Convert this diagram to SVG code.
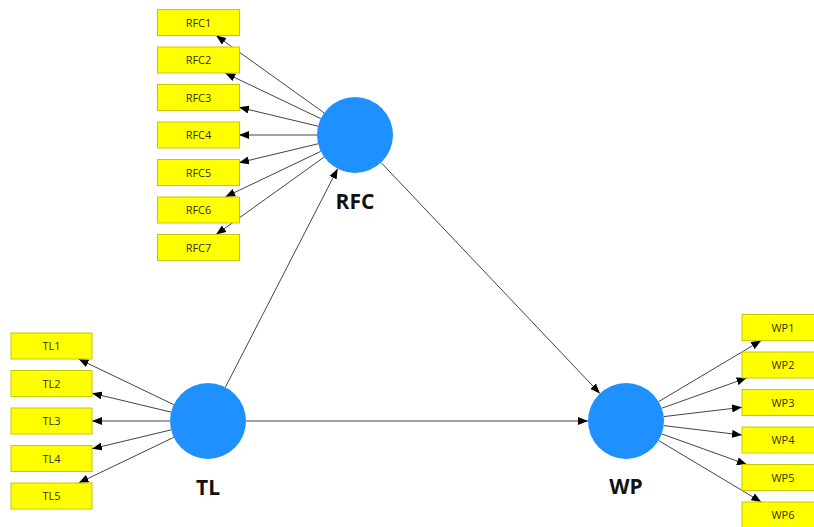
<svg xmlns="http://www.w3.org/2000/svg" width="814" height="527" viewBox="0 0 814 527">
<style>
.box{fill:#ffff00;stroke:#c8c800;stroke-width:1}
.bt{font-family:"Open Sans","Noto Sans",sans-serif;font-size:11px;fill:#333300;text-anchor:middle}
.lv{fill:#1e90ff}
.lt{font-family:"Open Sans","Noto Sans",sans-serif;font-size:21px;font-weight:bold;fill:#111;text-anchor:middle}
.c{stroke:#444;stroke-width:1;fill:none;marker-end:url(#ah)}
</style>
<defs>
<marker id="ah" markerUnits="userSpaceOnUse" markerWidth="10" markerHeight="8" refX="10" refY="4" orient="auto">
<path d="M0,0 L10,4 L0,8 z" fill="#000"/>
</marker>
</defs>
<rect width="814" height="527" fill="#fff"/>
<g id="connectors">
<line class="c" x1="324.1" y1="112.9" x2="216.1" y2="35.5"/>
<line class="c" x1="320.7" y1="118.6" x2="225.2" y2="73"/>
<line class="c" x1="318.0" y1="126.2" x2="239" y2="107.3"/>
<line class="c" x1="317" y1="135" x2="239" y2="135"/>
<line class="c" x1="318.0" y1="143.8" x2="239" y2="162.7"/>
<line class="c" x1="320.7" y1="151.4" x2="225.2" y2="197"/>
<line class="c" x1="324.1" y1="157.1" x2="216.1" y2="234.5"/>
<line class="c" x1="173.7" y1="404.6" x2="78.6" y2="359"/>
<line class="c" x1="171.0" y1="412.1" x2="92" y2="393.2"/>
<line class="c" x1="170" y1="421" x2="92" y2="421"/>
<line class="c" x1="171.0" y1="429.9" x2="92" y2="448.8"/>
<line class="c" x1="173.7" y1="437.4" x2="78.6" y2="483"/>
<line class="c" x1="658.7" y1="401.6" x2="761.2" y2="340.5"/>
<line class="c" x1="661.8" y1="408.2" x2="746.6" y2="378"/>
<line class="c" x1="663.7" y1="416.6" x2="742" y2="407.3"/>
<line class="c" x1="663.7" y1="425.6" x2="742" y2="435"/>
<line class="c" x1="661.7" y1="433.9" x2="746.9" y2="464.5"/>
<line class="c" x1="658.6" y1="440.5" x2="761.3" y2="502"/>
<line class="c" x1="381.1" y1="162.6" x2="599.9" y2="393.4"/>
<line class="c" x1="225.4" y1="387.2" x2="337.6" y2="168.8"/>
<line class="c" x1="246" y1="421" x2="588" y2="421"/>
</g>
<g id="RFC"><circle class="lv" cx="355" cy="135" r="38"/><text class="lt" x="355" y="209">RFC</text></g>
<g id="TL"><circle class="lv" cx="208" cy="421" r="38"/><text class="lt" x="208" y="495">TL</text></g>
<g id="WP"><circle class="lv" cx="626" cy="421" r="38"/><text class="lt" x="626" y="494">WP</text></g>
<g id="RFC1"><rect class="box" x="157.5" y="9.5" width="82" height="26"/><text class="bt" x="198.5" y="26.5">RFC1</text></g>
<g id="RFC2"><rect class="box" x="157.5" y="47" width="82" height="26"/><text class="bt" x="198.5" y="64">RFC2</text></g>
<g id="RFC3"><rect class="box" x="157.5" y="84.5" width="82" height="26"/><text class="bt" x="198.5" y="101.5">RFC3</text></g>
<g id="RFC4"><rect class="box" x="157.5" y="122" width="82" height="26"/><text class="bt" x="198.5" y="139">RFC4</text></g>
<g id="RFC5"><rect class="box" x="157.5" y="159.5" width="82" height="26"/><text class="bt" x="198.5" y="176.5">RFC5</text></g>
<g id="RFC6"><rect class="box" x="157.5" y="197" width="82" height="26"/><text class="bt" x="198.5" y="214">RFC6</text></g>
<g id="RFC7"><rect class="box" x="157.5" y="234.5" width="82" height="26"/><text class="bt" x="198.5" y="251.5">RFC7</text></g>
<g id="TL1"><rect class="box" x="11" y="333" width="81" height="26"/><text class="bt" x="51.5" y="350">TL1</text></g>
<g id="TL2"><rect class="box" x="11" y="370.5" width="81" height="26"/><text class="bt" x="51.5" y="387.5">TL2</text></g>
<g id="TL3"><rect class="box" x="11" y="408" width="81" height="26"/><text class="bt" x="51.5" y="425">TL3</text></g>
<g id="TL4"><rect class="box" x="11" y="445.5" width="81" height="26"/><text class="bt" x="51.5" y="462.5">TL4</text></g>
<g id="TL5"><rect class="box" x="11" y="483" width="81" height="26"/><text class="bt" x="51.5" y="500">TL5</text></g>
<g id="WP1"><rect class="box" x="742" y="314.5" width="82" height="26"/><text class="bt" x="783" y="331.5">WP1</text></g>
<g id="WP2"><rect class="box" x="742" y="352" width="82" height="26"/><text class="bt" x="783" y="369">WP2</text></g>
<g id="WP3"><rect class="box" x="742" y="389.5" width="82" height="26"/><text class="bt" x="783" y="406.5">WP3</text></g>
<g id="WP4"><rect class="box" x="742" y="427" width="82" height="26"/><text class="bt" x="783" y="444">WP4</text></g>
<g id="WP5"><rect class="box" x="742" y="464.5" width="82" height="26"/><text class="bt" x="783" y="481.5">WP5</text></g>
<g id="WP6"><rect class="box" x="742" y="502" width="82" height="26"/><text class="bt" x="783" y="519">WP6</text></g>
</svg>
